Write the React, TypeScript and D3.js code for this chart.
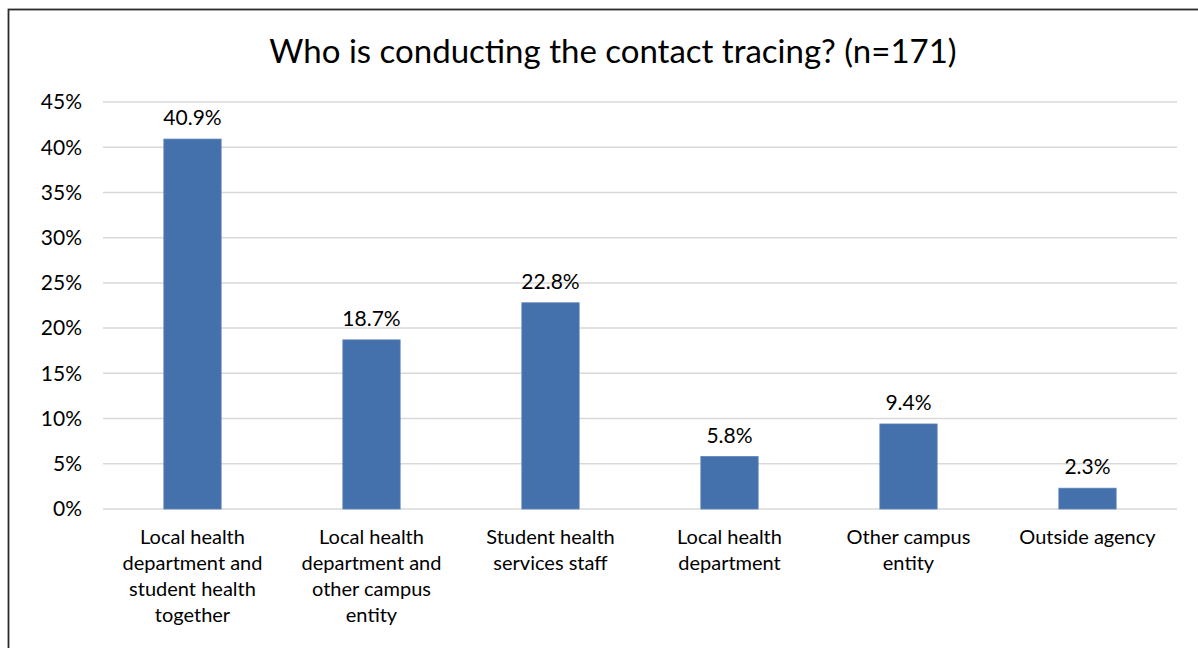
import React from "react";
import * as d3 from "d3";

const categories = [
  ["Local health", "department and", "student health", "together"],
  ["Local health", "department and", "other campus", "entity"],
  ["Student health", "services staff"],
  ["Local health", "department"],
  ["Other campus", "entity"],
  ["Outside agency"],
];
const values = [40.9, 18.7, 22.8, 5.8, 9.4, 2.3];
const yTicks = [0, 5, 10, 15, 20, 25, 30, 35, 40, 45];
const title = "Who is conducting the contact tracing? (n=171)";

const W = 1198;
const H = 648;
const font = "Lato, Carlito, 'DejaVu Sans', sans-serif";

const App: React.FC = () => {
  const x = d3
    .scaleBand<number>()
    .domain(d3.range(values.length))
    .range([103, 1177])
    .paddingInner(0.68)
    .paddingOuter(0.34);

  const y = d3.scaleLinear().domain([0, 45]).range([509, 102]);

  return (
    <svg
      width={W}
      height={H}
      style={{ position: "absolute", left: 0, top: 0, background: "#fff" }}
      fontFamily={font}
    >
      <rect x={8.5} y={9.5} width={W + 10} height={H + 10} fill="#fff" stroke="#2b2b2b" strokeWidth={1.8} />
      <text x={613} y={63} textAnchor="middle" fontSize={33} fill="#000">
        {title}
      </text>

      {yTicks.map((t) => (
        <g key={t}>
          <line x1={103} x2={1177} y1={y(t)} y2={y(t)} stroke="#d9d9d9" strokeWidth={1.5} />
          <text x={82} y={y(t)} dy="0.35em" textAnchor="end" fontSize={21} fill="#000">
            {t}%
          </text>
        </g>
      ))}

      {values.map((v, i) => (
        <g key={i}>
          <rect
            x={x(i)!}
            y={y(v)}
            width={x.bandwidth()}
            height={y(0) - y(v)}
            fill="#4470ab"
            stroke="#5b82b8"
            strokeWidth={0.8}
          />
          <text
            x={x(i)! + x.bandwidth() / 2}
            y={y(v) - 14}
            textAnchor="middle"
            fontSize={21}
            fill="#000"
          >
            {v.toFixed(1)}%
          </text>
          {categories[i].map((line, j) => (
            <text
              key={j}
              x={x(i)! + x.bandwidth() / 2}
              y={544 + j * 26}
              textAnchor="middle"
              fontSize={20}
              fill="#000"
            >
              {line}
            </text>
          ))}
        </g>
      ))}
    </svg>
  );
};

export default App;
